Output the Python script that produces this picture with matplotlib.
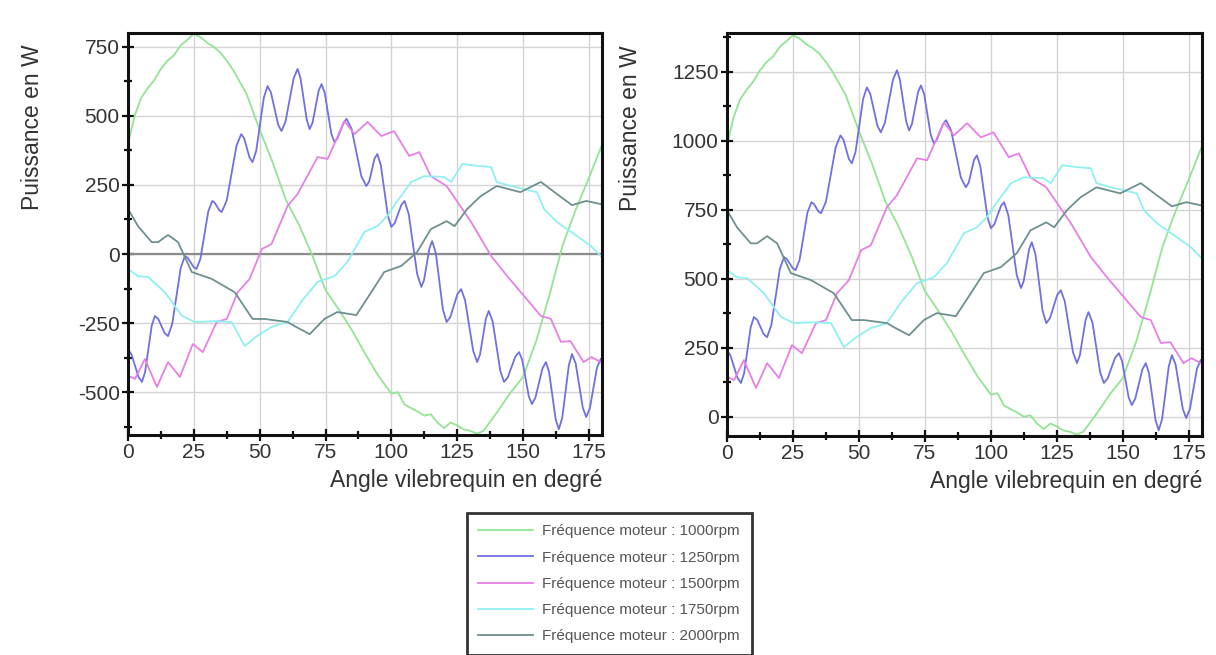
import numpy as np
import matplotlib
matplotlib.use('Agg')
import matplotlib.pyplot as plt
from matplotlib.ticker import MultipleLocator

plt.rcParams['font.family'] = ['Liberation Sans', 'DejaVu Sans']
plt.rcParams['axes.unicode_minus'] = False

# Courbes (angle en degrés, puissance en W)
labels = ['Fréquence moteur : 1000rpm', 'Fréquence moteur : 1250rpm',
          'Fréquence moteur : 1500rpm', 'Fréquence moteur : 1750rpm',
          'Fréquence moteur : 2000rpm']
couleurs = ['#93e493', '#7070e0', '#e680e6', '#90f0f0', '#6e9090']

x_1000 = [0, 2.5, 5, 7.5, 10, 12.5, 15, 17.5, 20, 22.5, 25, 27.5, 30, 32.5, 35, 37.5,
          40, 45, 50, 55, 60, 65, 70, 75, 80, 85, 90, 95, 100, 102.5, 105, 110, 112.5,
          115, 117.5, 120, 122.5, 125, 127.5, 130, 132.5, 135, 140, 145, 150, 155, 160,
          165, 170, 175, 180]
g_1000 = [398, 500, 565, 600, 630, 670, 700, 720, 755, 775, 797, 785, 765, 750, 730, 700,
          665, 580, 450, 330, 195, 105, -5, -130, -200, -275, -360, -440, -505, -500, -545,
          -570, -585, -580, -610, -630, -610, -620, -635, -640, -650, -640, -575, -505, -445,
          -315, -150, 30, 160, 275, 395]
d_1000 = [983, 1085, 1150, 1185, 1215, 1255, 1285, 1305, 1340, 1360, 1382, 1370, 1350,
          1335, 1315, 1285, 1250, 1165, 1035, 915, 780, 690, 580, 455, 385, 310, 225, 145,
          80, 85, 40, 15, 0, 5, -25, -45, -25, -35, -50, -55, -65, -55, 10, 80, 140, 270,
          435, 615, 745, 860, 980]

x_1250 = [0, 1.3, 4.0, 5.3, 6.5, 9.0, 10.2, 11.5, 13.9, 15.2, 16.8, 20.0, 21.6, 22.7, 24.9,
          26, 27.5, 30.5, 32, 32.9, 34.7, 35.6, 37.5, 41.2, 43, 44.1, 46.2, 47.3, 48.7, 51.6,
          53, 54.3, 57.0, 58.3, 59.8, 62.9, 64.4, 65.5, 67.9, 69, 70.1, 72.4, 73.5, 74.7,
          77.2, 78.4, 79.5, 81.9, 83, 84.9, 88.6, 90.5, 91.6, 93.6, 94.7, 96.0, 98.7, 100,
          101.3, 103.8, 105, 106.6, 109.8, 111.4, 112.4, 114.5, 115.5, 116.9, 119.6, 121,
          122.4, 125.1, 126.5, 128.0, 131.1, 132.6, 133.7, 135.9, 137, 138.5, 141.4, 142.8,
          144.2, 147.1, 148.5, 149.7, 152.2, 153.4, 154.7, 157.4, 158.7, 159.9, 162.4, 163.6,
          164.9, 167.4, 168.6, 170.0, 172.7, 174, 175.4, 178.1, 179.5]
g_1250 = [-345, -363, -445, -463, -427, -260, -224, -235, -286, -297, -253, -51, -7, -14,
          -47, -54, -17, 155, 192, 186, 158, 152, 194, 392, 434, 419, 348, 333, 374, 567,
          608, 584, 469, 445, 479, 636, 670, 637, 485, 452, 476, 591, 615, 584, 436, 405,
          418, 476, 489, 453, 282, 246, 263, 345, 362, 322, 138, 98, 112, 178, 192, 145,
          -72, -119, -95, 22, 47, 3, -202, -246, -228, -145, -127, -167, -351, -391, -363,
          -234, -206, -245, -424, -463, -447, -371, -355, -383, -515, -543, -520, -414,
          -391, -427, -598, -634, -593, -403, -362, -396, -556, -590, -558, -411, -380]
d_1250 = [240, 222, 140, 122, 158, 325, 361, 350, 299, 288, 332, 534, 578, 571, 538, 531,
          568, 740, 777, 771, 743, 737, 779, 977, 1019, 1004, 933, 918, 959, 1152, 1193,
          1169, 1054, 1030, 1064, 1221, 1255, 1222, 1070, 1037, 1061, 1176, 1200, 1169,
          1021, 990, 1003, 1061, 1074, 1038, 867, 831, 848, 930, 947, 907, 723, 683, 697,
          763, 777, 730, 513, 466, 490, 607, 632, 588, 383, 339, 357, 440, 458, 418, 234,
          194, 222, 351, 379, 340, 161, 122, 138, 214, 230, 202, 70, 42, 65, 171, 194, 158,
          -13, -49, -8, 182, 223, 189, 29, -5, 27, 174, 205]

x_1500 = [0, 2.7, 6.4, 11, 15.2, 19.7, 24.6, 28.4, 33.7, 37.5, 41.7, 46.2, 50.8, 54.5,
          60.6, 64.4, 72, 75.8, 82.2, 86, 91, 96.2, 101, 106.8, 110.6, 115, 121, 130.3,
          137.9, 144, 150.4, 156.8, 160.6, 164.4, 168, 173, 176, 179.5]
g_1500 = [-441, -452, -380, -481, -391, -445, -326, -355, -246, -235, -138, -90, 18, 36,
          174, 217, 351, 344, 481, 434, 478, 427, 445, 355, 369, 282, 246, 116, -7, -80,
          -152, -224, -235, -318, -315, -391, -373, -391]
d_1500 = [144, 133, 205, 104, 194, 140, 259, 230, 339, 350, 447, 495, 603, 621, 759, 802,
          936, 929, 1066, 1019, 1063, 1012, 1030, 940, 954, 867, 831, 701, 578, 505, 433,
          361, 350, 267, 270, 194, 212, 194]

x_1750 = [0, 3.8, 7.6, 14, 20.5, 25.4, 33, 39.4, 44.3, 49, 54.5, 60.6, 66, 72, 78.4,
          83.3, 89.8, 94.7, 98.5, 102, 107.6, 112.5, 120, 122.7, 127, 132.6, 137.9, 140,
          145.5, 150.4, 155.3, 158, 162.9, 170.5, 175.8, 179.5]
g_1750 = [-54, -80, -83, -138, -224, -246, -243, -246, -333, -297, -264, -246, -170, -101,
          -80, -29, 80, 101, 138, 188, 261, 282, 279, 261, 326, 319, 315, 261, 246, 235,
          224, 163, 116, 65, 29, -7]
d_1750 = [531, 505, 502, 447, 361, 339, 342, 339, 252, 288, 321, 339, 415, 484, 505, 556,
          665, 686, 723, 773, 846, 867, 864, 846, 911, 904, 900, 846, 831, 820, 809, 748,
          701, 650, 614, 578]

x_2000 = [0, 3.8, 9, 11.4, 15.2, 19, 24.2, 31.8, 40.5, 47.3, 51.9, 60.6, 63.3, 69, 74.6,
          79.5, 86.7, 92.4, 97.3, 103.8, 109.8, 115, 121, 124, 128.8, 134, 140, 149,
          156.8, 162.9, 168.6, 174, 179.5]
g_2000 = [163, 101, 43, 43, 69, 43, -65, -90, -138, -235, -235, -246, -261, -290, -235,
          -210, -221, -138, -65, -43, 7, 90, 119, 101, 163, 210, 246, 224, 261, 217, 177,
          192, 181]
d_2000 = [748, 686, 628, 628, 654, 628, 520, 495, 447, 350, 350, 339, 324, 295, 350, 375,
          364, 447, 520, 542, 592, 675, 704, 686, 748, 795, 831, 809, 846, 802, 762, 777,
          766]

xs = [x_1000, x_1250, x_1500, x_1750, x_2000]
gauche = [g_1000, g_1250, g_1500, g_1750, g_2000]
droite = [d_1000, d_1250, d_1500, d_1750, d_2000]

fig = plt.figure(figsize=(12.16, 6.55), dpi=100)
ax1 = fig.add_axes([128/1216, 1 - 435/655, 474/1216, 402/655])
ax2 = fig.add_axes([727/1216, 1 - 436/655, 475/1216, 403/655])


def mise_en_forme(ax, ylim, yticks):
    ax.set_xlim(0, 180)
    ax.set_ylim(*ylim)
    ax.set_yticks(yticks)
    ax.xaxis.set_major_locator(MultipleLocator(25))
    ax.xaxis.set_minor_locator(MultipleLocator(12.5))
    ax.yaxis.set_minor_locator(MultipleLocator(125))
    ax.grid(True, which='major', color='#d4d4d4', linewidth=1.0)
    ax.set_axisbelow(True)
    for s in ax.spines.values():
        s.set_linewidth(2.2)
        s.set_color('#111111')
    ax.tick_params(which='major', direction='inout', length=8, width=1.6,
                   labelsize=15, colors='#111111', labelcolor='#333333', pad=2)
    ax.tick_params(which='minor', direction='inout', length=6, width=1.6, colors='#111111')
    ax.set_xlabel('Angle vilebrequin en degré', fontsize=16.5, color='#333333')
    ax.xaxis.set_label_coords(1.0, -0.085)
    ax.xaxis.label.set_ha('right')
    ax.set_ylabel('Puissance en W', fontsize=16.5, color='#333333')
    ax.yaxis.set_label_coords(-0.178, 0.765)


mise_en_forme(ax1, (-655, 800), [-500, -250, 0, 250, 500, 750])
mise_en_forme(ax2, (-70, 1390), [0, 250, 500, 750, 1000, 1250])
ax1.axhline(0, color='#8c8c8c', linewidth=1.6, zorder=1.5)

lignes = []
for x, yg, yd, c, lab in zip(xs, gauche, droite, couleurs, labels):
    l, = ax1.plot(x, yg, color=c, linewidth=1.3, label=lab)
    ax2.plot(x, yd, color=c, linewidth=1.3)
    lignes.append(l)

leg = fig.legend(handles=lignes, loc='upper center', bbox_to_anchor=(0.501, 1 - 513/655),
                 fontsize=11, frameon=True, fancybox=False, handlelength=3.6,
                 labelspacing=0.8, borderpad=0.75, handletextpad=0.6, borderaxespad=0)
leg.get_frame().set_edgecolor('black')
leg.get_frame().set_linewidth(2.0)
for t in leg.get_texts():
    t.set_color('#555555')

plt.savefig('out.png', dpi=100)
